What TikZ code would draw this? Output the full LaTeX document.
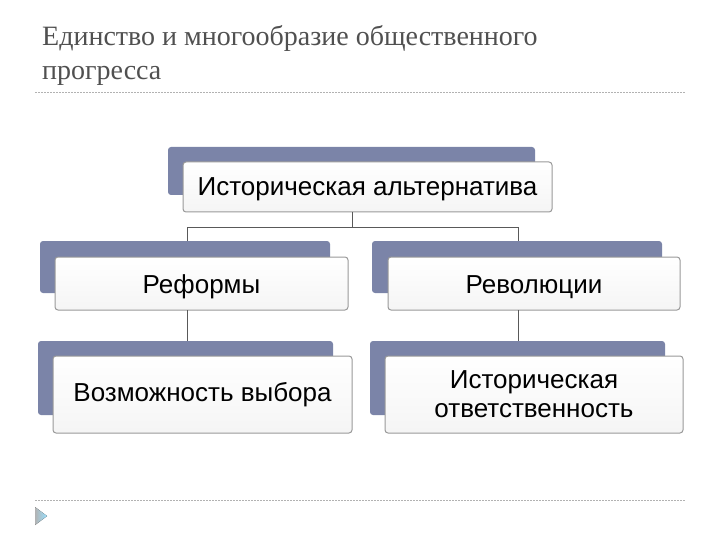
\documentclass[tikz,border=0pt]{standalone}
\usepackage{fontspec}
\setmainfont{Liberation Serif}
\newfontfamily\bodyf{Liberation Sans}
\begin{document}
\begin{tikzpicture}[x=1pt,y=-1pt,
 backbox/.style={fill=backc,draw=none,rounded corners=3pt},
 frontbox/.style={draw=gray!80,line width=1pt,rounded corners=3pt,top color=white,bottom color=gray!8},
 lbl/.style={font=\bodyf\fontsize{26}{29}\selectfont,align=center,text=black},
 conn/.style={draw=gray!70!black,line width=1pt},
 dline/.style={draw=gray!60,dash pattern=on 2pt off 1pt,line width=0.8pt}]
\definecolor{backc}{HTML}{7B84A8}
\definecolor{titlec}{HTML}{505050}
\useasboundingbox (0,0) rectangle (720,540);
\node[anchor=base west,text=titlec,font=\fontsize{28}{34}\selectfont,align=left,inner sep=0pt] (title) at (42,80) {Единство и многообразие общественного\\прогресса};
\draw[dline] (35,92) -- (685,92);
\draw[dline] (35,500) -- (685,500);
\fill[left color=gray!60,right color=blue!30!cyan!40] (35,507) -- (47,516) -- (35,525) -- cycle;
% top
\fill[backc,rounded corners=3pt] (168,147) rectangle (535,195);
\path[frontbox] (183,162) rectangle (552,212);
\node[lbl,anchor=base] (top) at (367.5,196) {Историческая альтернатива};
% mid
\fill[backc,rounded corners=3pt] (40,241) rectangle (330,293);
\path[frontbox] (55,257) rectangle (348,310);
\node[lbl,anchor=base] (ref) at (201.5,293) {Реформы};
\fill[backc,rounded corners=3pt] (372,241) rectangle (662,293);
\path[frontbox] (388,257) rectangle (680,310);
\node[lbl,anchor=base] (rev) at (534,293) {Революции};
% bottom
\fill[backc,rounded corners=3pt] (38,341) rectangle (333,415);
\path[frontbox] (53,356) rectangle (352,433);
\node[lbl] (vyb) at (202.5,394.5) {Возможность выбора};
\fill[backc,rounded corners=3pt] (370,341) rectangle (665,415);
\path[frontbox] (385,356) rectangle (683,433);
\node[lbl] (otv) at (534,394.5) {Историческая\\ответственность};
% connectors
\coordinate (tb) at (352,212);
\coordinate (lj) at (187,228);
\coordinate (rj) at (518,228);
\draw[conn] (tb) -- (352,228);
\draw[conn] (187,241) -- (lj) -- (rj) -- (518,241);
\draw[conn] (187,310) -- (187,341);
\draw[conn] (518,310) -- (518,341);
\end{tikzpicture}
\end{document}
